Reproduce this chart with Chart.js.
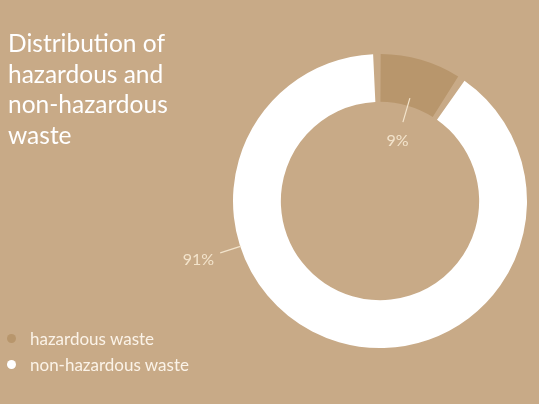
<!DOCTYPE html>
<html>
<head>
<meta charset="utf-8">
<script src="https://cdn.jsdelivr.net/npm/chart.js@4"></script>
<style>
  html, body { margin: 0; padding: 0; }
  body { width: 539px; height: 404px; background: #c8aa87; position: relative; overflow: hidden; font-family: Lato, sans-serif; }
  #title { position: absolute; left: 8px; top: 28px; color: #ffffff; font-size: 24.5px; line-height: 30.5px; }
  #legend { position: absolute; left: 7px; top: 326px; color: #fbf3e8; font-size: 17px; line-height: 25.5px; }
  #legend .item { display: flex; align-items: center; }
  #legend .dot { width: 9px; height: 9px; border-radius: 50%; margin-right: 14px; }
  canvas { position: absolute; left: 0; top: 0; }
</style>
</head>
<body>
<div style="position:absolute;left:0;top:0;width:539px;height:404px;">
  <canvas id="wasteChart"></canvas>
</div>
<div id="title">Distribution of<br>hazardous and<br>non-hazardous<br>waste</div>
<div id="legend"></div>
<script>
const labels = ['hazardous waste', 'non-hazardous waste'];
const shares = [9, 91];
const colors = ['#b8966c', '#ffffff'];
// where the leader line of each label sits (degrees clockwise from top), null = middle of slice
const labelAngles = [null, 252];
const labelInside = [true, false];

// legend
const legendEl = document.getElementById('legend');
labels.forEach((name, i) => {
    const row = document.createElement('div');
    row.className = 'item';
    row.innerHTML = `<span class="dot" style="background:${colors[i]}"></span><span>${name}</span>`;
    legendEl.appendChild(row);
});

// percent labels with leader lines
const calloutPlugin = {
    id: 'callouts',
    afterDatasetsDraw(chart) {
        const ctx = chart.ctx;
        const arcs = chart.getDatasetMeta(0).data;
        ctx.save();
        ctx.strokeStyle = '#f3e4cc';
        ctx.fillStyle = '#f3e4cc';
        ctx.lineWidth = 1.2;
        ctx.font = '16px Lato, sans-serif';
        ctx.textAlign = 'center';
        ctx.textBaseline = 'middle';
        arcs.forEach((arc, i) => {
            const { x, y, startAngle, endAngle, innerRadius, outerRadius } = arc.getProps(['x', 'y', 'startAngle', 'endAngle', 'innerRadius', 'outerRadius'], true);
            let a = labelAngles[i] === null ? (startAngle + endAngle) / 2 : (labelAngles[i] * Math.PI / 180) - Math.PI / 2;
            const cos = Math.cos(a), sin = Math.sin(a);
            let r1, r2, rt;
            if (labelInside[i]) {
                r1 = innerRadius + 10; r2 = innerRadius - 15; rt = innerRadius - 34;
            } else {
                r1 = outerRadius + 1; r2 = outerRadius + 23; rt = outerRadius + 46;
            }
            ctx.beginPath();
            ctx.moveTo(x + cos * r1, y + sin * r1);
            ctx.lineTo(x + cos * r2, y + sin * r2);
            ctx.stroke();
            ctx.fillText(shares[i] + '%', x + cos * rt, y + sin * rt);
        });
        ctx.restore();
    }
};

const ctx = document.getElementById('wasteChart').getContext('2d');
new Chart(ctx, {
    type: 'doughnut',
    data: {
        labels: labels,
        datasets: [{
            data: shares,
            backgroundColor: colors,
            borderWidth: 0,
            spacing: 4
        }]
    },
    options: {
        responsive: true,
        maintainAspectRatio: false,
        animation: false,
        cutout: '67%',
        layout: {
            padding: { left: 233, right: 12, top: 54, bottom: 56 }
        },
        plugins: {
            legend: { display: false },
            tooltip: { enabled: false }
        }
    },
    plugins: [calloutPlugin]
});
</script>
</body>
</html>
